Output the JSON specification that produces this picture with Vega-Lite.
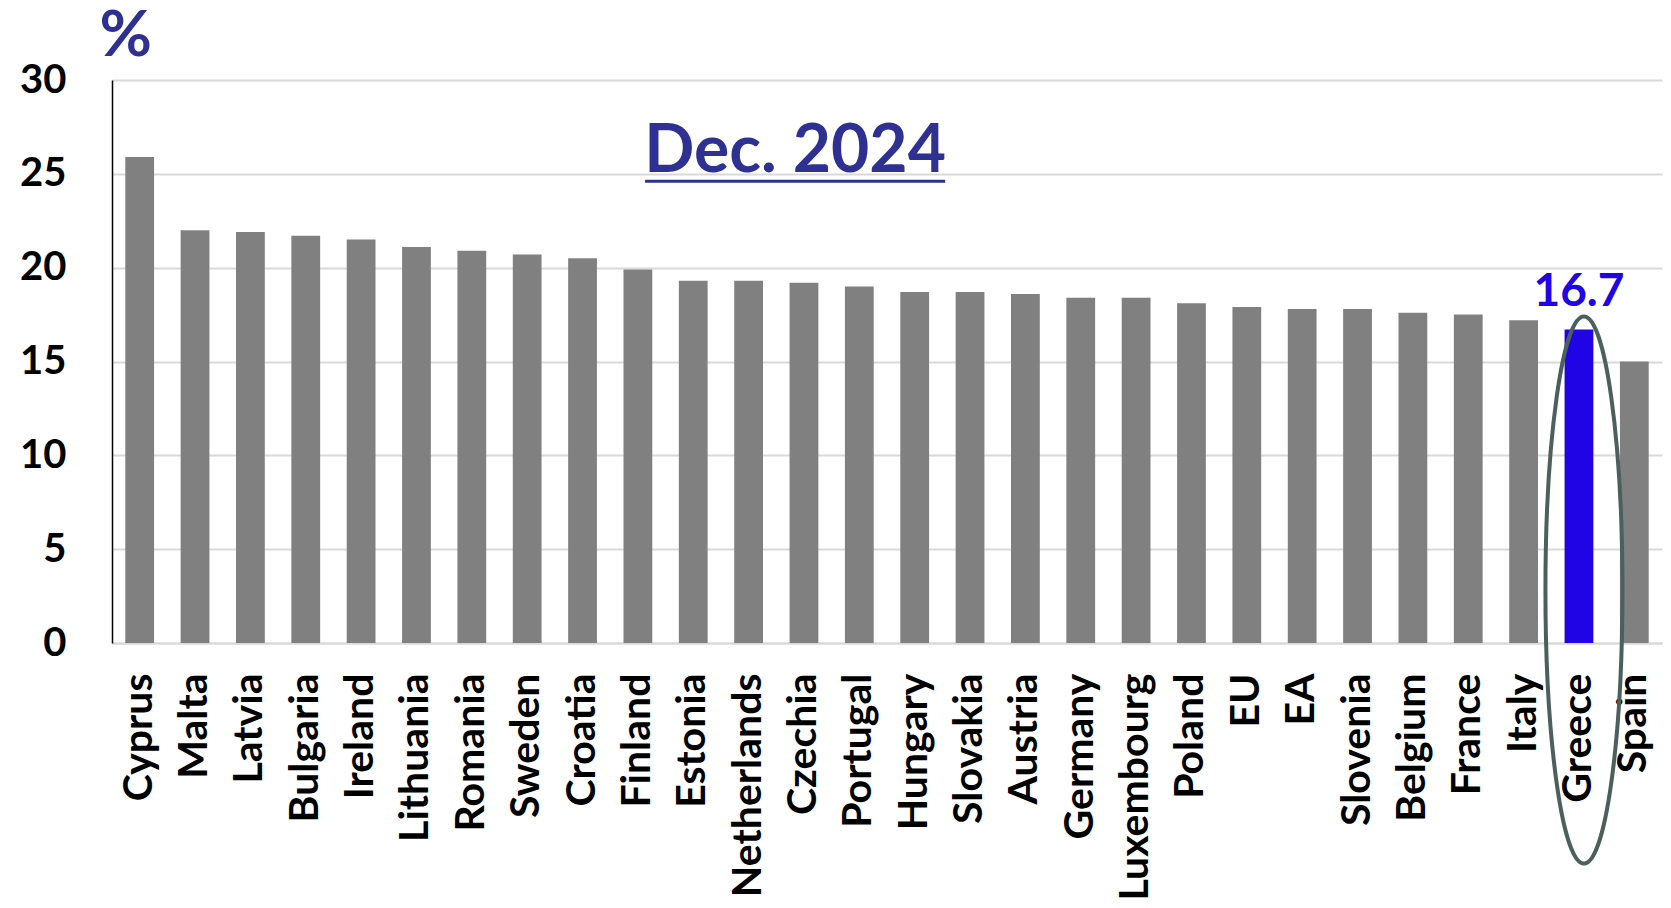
{
  "$schema": "https://vega.github.io/schema/vega-lite/v6.json",
  "width": 1550,
  "height": 563,
  "autosize": "none",
  "padding": {"left": 112, "top": 80, "right": 9, "bottom": 265},
  "background": "white",
  "config": {
    "view": {"stroke": null},
    "font": "Lato"
  },
  "data": {
    "values": [
      {"Country": "Cyprus", "Value": 25.9},
      {"Country": "Malta", "Value": 22.0},
      {"Country": "Latvia", "Value": 21.9},
      {"Country": "Bulgaria", "Value": 21.7},
      {"Country": "Ireland", "Value": 21.5},
      {"Country": "Lithuania", "Value": 21.1},
      {"Country": "Romania", "Value": 20.9},
      {"Country": "Sweden", "Value": 20.7},
      {"Country": "Croatia", "Value": 20.5},
      {"Country": "Finland", "Value": 19.9},
      {"Country": "Estonia", "Value": 19.3},
      {"Country": "Netherlands", "Value": 19.3},
      {"Country": "Czechia", "Value": 19.2},
      {"Country": "Portugal", "Value": 19.0},
      {"Country": "Hungary", "Value": 18.7},
      {"Country": "Slovakia", "Value": 18.7},
      {"Country": "Austria", "Value": 18.6},
      {"Country": "Germany", "Value": 18.4},
      {"Country": "Luxembourg", "Value": 18.4},
      {"Country": "Poland", "Value": 18.1},
      {"Country": "EU", "Value": 17.9},
      {"Country": "EA", "Value": 17.8},
      {"Country": "Slovenia", "Value": 17.8},
      {"Country": "Belgium", "Value": 17.6},
      {"Country": "France", "Value": 17.5},
      {"Country": "Italy", "Value": 17.2},
      {"Country": "Greece", "Value": 16.7},
      {"Country": "Spain", "Value": 15.0}
    ]
  },
  "resolve": {"scale": {"x": "independent"}, "axis": {"x": "independent"}},
  "layer": [
    {
      "encoding": {
        "x": {
          "field": "Country",
          "type": "nominal",
          "sort": null,
          "scale": {"paddingInner": 0.48, "paddingOuter": 0.24},
          "axis": {
            "title": null,
            "labelAngle": -90,
            "labelFont": "Lato",
            "labelFontWeight": "bold",
            "labelFontSize": 41,
            "labelColor": "black",
            "labelPadding": 30,
            "labelLimit": 400,
            "labelOverlap": false,
            "ticks": false,
            "domainColor": "#D9D9D9",
            "domainWidth": 2,
            "grid": false
          }
        },
        "y": {
          "field": "Value",
          "type": "quantitative",
          "scale": {"domain": [0, 30], "nice": false},
          "axis": {
            "values": [0, 5, 10, 15, 20, 25, 30],
            "title": "%",
            "titleAngle": 0,
            "titleAlign": "left",
            "titleBaseline": "alphabetic",
            "titleX": -13,
            "titleY": -25,
            "titleFont": "Lato",
            "titleFontSize": 64,
            "titleFontWeight": "bold",
            "titleColor": "#2E3092",
            "labelFont": "Lato",
            "labelFontWeight": "bold",
            "labelFontSize": 40,
            "labelColor": "black",
            "labelPadding": 46,
            "ticks": false,
            "grid": true,
            "gridColor": "#D9D9D9",
            "gridWidth": 2,
            "domain": true,
            "domainColor": "black",
            "domainWidth": 1.5
          }
        }
      },
      "layer": [
        {
          "mark": {"type": "bar"},
          "encoding": {
            "color": {
              "condition": {"test": "datum.Country === 'Greece'", "value": "#2104E6"},
              "value": "#808080"
            }
          }
        },
        {
          "transform": [{"filter": "datum.Country === 'Greece'"}],
          "mark": {
            "type": "text",
            "baseline": "alphabetic",
            "align": "center",
            "dy": -24,
            "font": "Lato",
            "fontWeight": "bold",
            "fontSize": 46,
            "color": "#2104E6"
          },
          "encoding": {
            "text": {"field": "Value", "type": "quantitative", "format": ".1f"}
          }
        }
      ]
    },
    {
      "data": {"values": [{}]},
      "mark": {
        "type": "text",
        "text": "Dec. 2024",
        "baseline": "alphabetic",
        "align": "center",
        "font": "Lato",
        "fontWeight": "bold",
        "fontSize": 66,
        "color": "#2E3092"
      },
      "encoding": {
        "x": {"datum": 12.34, "type": "quantitative", "scale": {"domain": [0, 28], "nice": false, "zero": true}, "axis": null},
        "y": {"datum": 25.12, "type": "quantitative"}
      }
    },
    {
      "data": {"values": [{}]},
      "mark": {"type": "rule", "color": "#2E3092", "strokeWidth": 3},
      "encoding": {
        "x": {"datum": 9.63, "type": "quantitative", "scale": {"domain": [0, 28], "nice": false, "zero": true}, "axis": null},
        "x2": {"datum": 15.05},
        "y": {"datum": 24.6, "type": "quantitative"}
      }
    },
    {
      "data": {"values": [{}]},
      "mark": {
        "type": "point",
        "shape": "M 0 -1 C 0.0778 -1 0.1408 -0.5523 0.1408 0 C 0.1408 0.5523 0.0778 1 0 1 C -0.0778 1 -0.1408 0.5523 -0.1408 0 C -0.1408 -0.5523 -0.0778 -1 0 -1 Z",
        "size": 299209,
        "filled": false,
        "stroke": "#4B5F5D",
        "strokeWidth": 4,
        "opacity": 1
      },
      "encoding": {
        "x": {"datum": 26.59, "type": "quantitative", "scale": {"domain": [0, 28], "nice": false, "zero": true}, "axis": null},
        "y": {"datum": 2.82, "type": "quantitative"}
      }
    }
  ]
}
